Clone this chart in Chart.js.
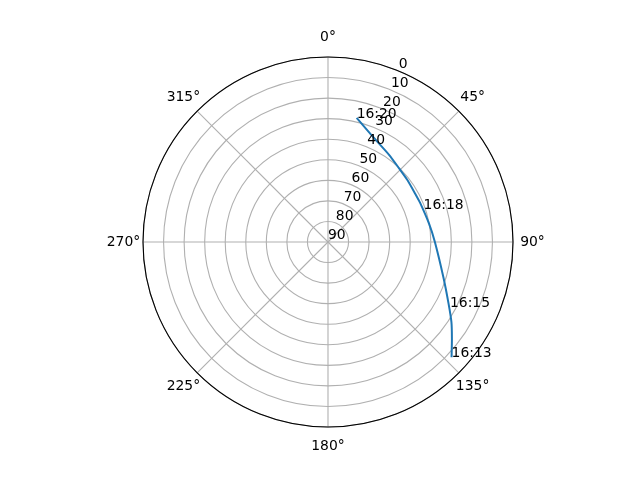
<!DOCTYPE html>
<html><head><meta charset="utf-8">
<script src="https://cdn.jsdelivr.net/npm/chart.js@4"></script>
<style>html,body{margin:0;padding:0;background:#fff}canvas{display:block}</style>
</head><body>
<canvas id="c" width="640" height="480"></canvas>
<script>
// azimuth categories, one per degree (0 = north, clockwise)
const azimuthLabels = Array.from({length: 360}, (_, i) => i);
const angleTicks = [0, 45, 90, 135, 180, 225, 270, 315];
const radialTicks = [0, 10, 20, 30, 40, 50, 60, 70, 80, 90];
const radialLabelAngle = 22.5;

// satellite track: azimuth (deg) and elevation (deg)
const trackAz = [13, 22, 35, 44, 52, 61, 67, 80, 90, 107, 117, 123, 128, 133];
const trackEl = [28.0, 33.8, 38.2, 40.2, 41.0, 41.5, 41.3, 40.0, 38.0, 31.3, 24.2, 18.4, 13.5, 7.8];

// time annotations
const timeLabels = ['16:13', '16:15', '16:18', '16:20'];
const timeAz = [133, 118, 71, 13];
const timeEl = [7.8, 22.8, 40.8, 28.0];

const trackData = azimuthLabels.map(a => {
  const k = trackAz.indexOf(a);
  return k >= 0 ? trackEl[k] : null;
});

const FONT = '13.9px "DejaVu Sans"';

const polarDecor = {
  id: 'polarDecor',
  afterDatasetsUpdate(chart) {
    chart.getSortedVisibleDatasetMetas().forEach(m => {
      const line = m.dataset;
      if (line) {
        line._loop = false;
        line._segments = undefined;
        line._path = undefined;
        line._pointsUpdated = false;
      }
    });
  },
  afterDraw(chart) {
    const s = chart.scales.r;
    const ctx = chart.ctx;
    ctx.save();
    ctx.beginPath();
    ctx.arc(s.xCenter, s.yCenter, s.drawingArea, 0, 2 * Math.PI);
    ctx.strokeStyle = '#000';
    ctx.lineWidth = 1.1;
    ctx.stroke();
    ctx.fillStyle = '#000';
    ctx.font = FONT;
    ctx.textAlign = 'center';
    ctx.textBaseline = 'middle';
    angleTicks.forEach(a => {
      const p = s.getPointPosition(a, s.drawingArea + 19.5);
      ctx.fillText(a + '°', p.x, p.y);
    });
    ctx.textAlign = 'left';
    ctx.textBaseline = 'bottom';
    radialTicks.forEach(v => {
      const p = s.getPointPositionForValue(radialLabelAngle, v);
      ctx.fillText(String(v), p.x, p.y);
    });
    ctx.textBaseline = 'alphabetic';
    timeLabels.forEach((t, i) => {
      const p = s.getPointPositionForValue(timeAz[i], timeEl[i]);
      ctx.fillText(t, p.x, p.y);
    });
    ctx.restore();
  }
};

Chart.defaults.font.family = '"DejaVu Sans"';

new Chart(document.getElementById('c'), {
  type: 'radar',
  data: {
    labels: azimuthLabels,
    datasets: [{
      data: trackData,
      borderColor: '#1f77b4',
      borderWidth: 2,
      fill: false,
      spanGaps: true,
      tension: 0.2,
      pointRadius: 0,
      pointHoverRadius: 0
    }]
  },
  options: {
    responsive: false,
    animation: false,
    devicePixelRatio: 1,
    layout: {padding: {left: 143, right: 127, top: 57, bottom: 53}},
    plugins: {legend: {display: false}, tooltip: {enabled: false}},
    scales: {
      r: {
        min: 0,
        max: 90,
        reverse: true,
        ticks: {display: false, stepSize: 10, reverse: true},
        pointLabels: {display: false},
        grid: {circular: true, color: '#b0b0b0', lineWidth: 1.1},
        angleLines: {
          display: true,
          color: '#b0b0b0',
          lineWidth: c => (c.index % 45 === 0 ? 1.1 : 0)
        }
      }
    }
  },
  plugins: [polarDecor]
});
</script>
</body></html>
